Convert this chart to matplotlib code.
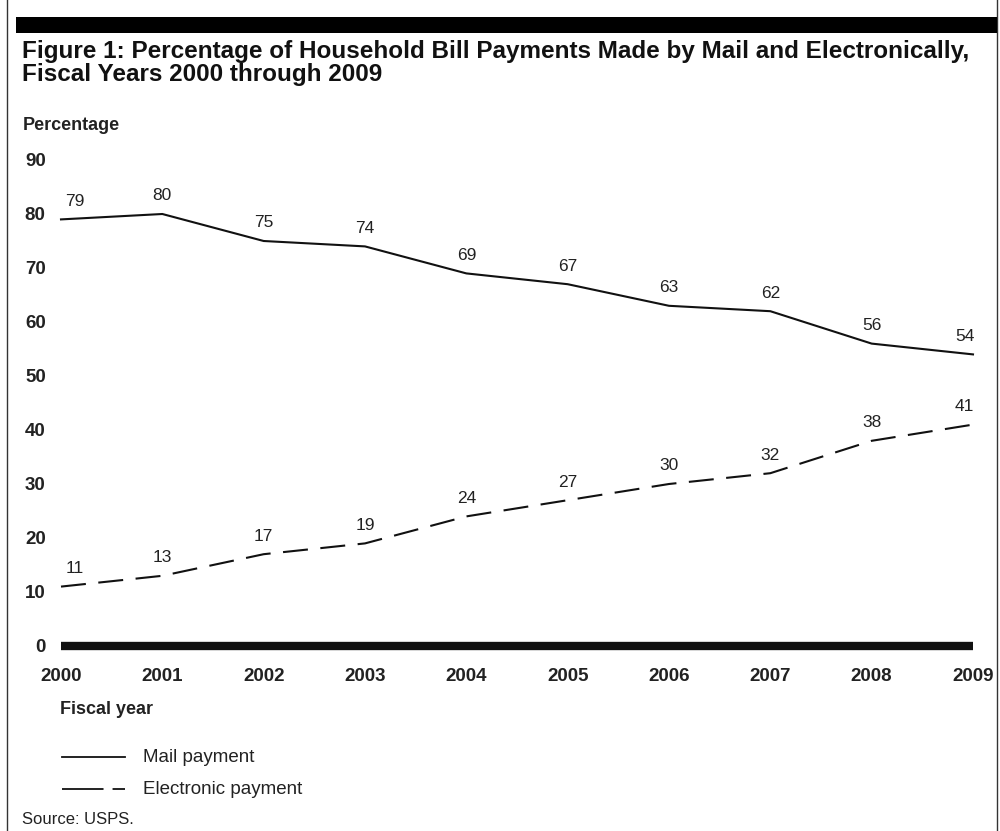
import matplotlib
matplotlib.use("Agg")
import matplotlib.pyplot as plt
from matplotlib.patches import Rectangle
from matplotlib.lines import Line2D

plt.rcParams["font.family"] = ["Liberation Sans", "DejaVu Sans"]

years = [2000, 2001, 2002, 2003, 2004, 2005, 2006, 2007, 2008, 2009]
mail = [79, 80, 75, 74, 69, 67, 63, 62, 56, 54]
electronic = [11, 13, 17, 19, 24, 27, 30, 32, 38, 41]
y_ticks = [0, 10, 20, 30, 40, 50, 60, 70, 80, 90]

title = ("Figure 1: Percentage of Household Bill Payments Made by Mail and Electronically,\n"
         "Fiscal Years 2000 through 2009")

W, H = 1000, 831
fig = plt.figure(figsize=(W / 100, H / 100), dpi=100)


def fx(x):
    return x / W


def fy(y):
    return 1 - y / H


# frame and black header bar
fig.add_artist(Rectangle((fx(7), fy(840)), fx(990), 840 / H - 7 / H + 0.01,
                         transform=fig.transFigure, fill=False,
                         edgecolor="#333333", lw=1.0))
fig.add_artist(Rectangle((fx(16), fy(33)), fx(981), 16 / H,
                         transform=fig.transFigure, facecolor="black",
                         edgecolor="none"))

fig.text(fx(22), fy(63), title, fontsize=17.5, fontweight="bold",
         va="center", ha="left", linespacing=0.95, color="#111111")
fig.text(fx(23), fy(125), "Percentage", fontsize=13, fontweight="bold",
         va="center", ha="left", color="#222222")

ax = fig.add_axes([fx(61), fy(646), fx(973) - fx(61), (646 - 160) / H])
ax.set_xlim(2000, 2009)
ax.set_ylim(0, 90)
for s in ax.spines.values():
    s.set_visible(False)

ax.plot([2000, 2009], [0, 0], color="#111111", lw=6, clip_on=False,
        solid_capstyle="butt")
ax.plot(years, mail, color="#111111", lw=1.5, clip_on=False)
ax.plot(years, electronic, color="#111111", lw=1.5, clip_on=False,
        dashes=(12, 6))

for i, (yr, m, e) in enumerate(zip(years, mail, electronic)):
    dx = 10 if i == 0 else (-6 if i == len(years) - 1 else 0)
    ax.annotate(str(m), (yr, m), xytext=(dx, 13), textcoords="offset points",
                ha="center", va="center", fontsize=12.5, color="#222222")
    ax.annotate(str(e), (yr, e), xytext=(dx, 13), textcoords="offset points",
                ha="center", va="center", fontsize=12.5, color="#222222")

ax.set_xticks(years)
ax.set_xticklabels([str(y) for y in years], fontsize=13.5, fontweight="bold",
                   color="#222222")
ax.set_yticks(y_ticks)
ax.set_yticklabels([str(t) for t in y_ticks], fontsize=13.5, fontweight="bold",
                   color="#222222")
ax.tick_params(axis="x", length=0, pad=16)
ax.tick_params(axis="y", length=0, pad=11)

fig.text(fx(60), fy(709), "Fiscal year", fontsize=13, fontweight="bold",
         va="center", ha="left", color="#222222")

# legend
fig.add_artist(Line2D([fx(62), fx(125)], [fy(757), fy(757)],
                      transform=fig.transFigure, color="#111111", lw=1.3))
fig.add_artist(Line2D([fx(62), fx(125)], [fy(789), fy(789)],
                      transform=fig.transFigure, color="#111111", lw=1.3,
                      dashes=(23, 5)))
fig.text(fx(143), fy(757), "Mail payment", fontsize=13.5, va="center",
         ha="left", color="#222222")
fig.text(fx(143), fy(789), "Electronic payment", fontsize=13.5, va="center",
         ha="left", color="#222222")
fig.text(fx(22), fy(820), "Source: USPS.", fontsize=12, va="center",
         ha="left", color="#222222")

fig.savefig("out.png", dpi=100)
